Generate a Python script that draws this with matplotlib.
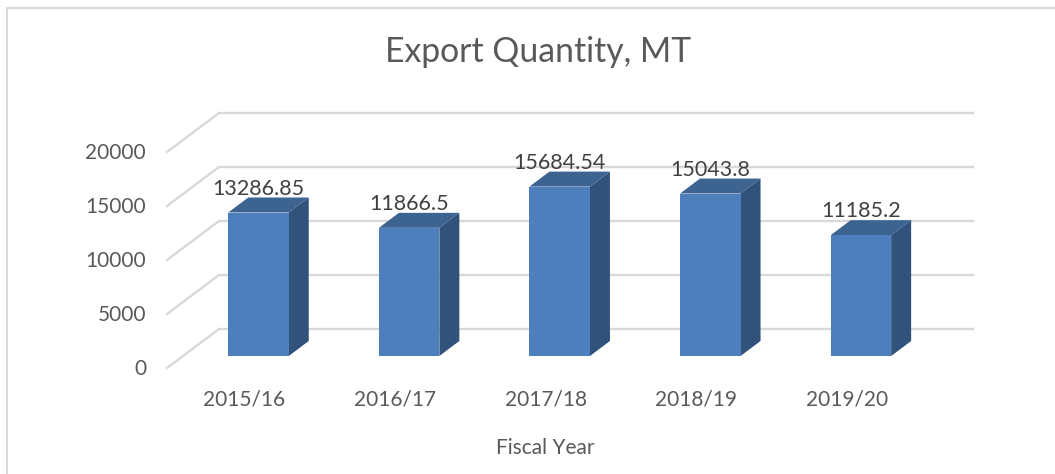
import matplotlib.pyplot as plt
from matplotlib.patches import Polygon

years = ['2015/16', '2016/17', '2017/18', '2018/19', '2019/20']
export_qty = [13286.85, 11866.5, 15684.54, 15043.8, 11185.2]
value_labels = ['13286.85', '11866.5', '15684.54', '15043.8', '11185.2']
y_ticks = [0, 5000, 10000, 15000, 20000]

plt.rcParams['font.family'] = ['Lato', 'DejaVu Sans']

W, H = 1055, 474
# one axes over the whole figure, x in category units, y in MT
px_x = 150.6      # pixels per category
px_y = 216/20000  # pixels per MT
x0, y0 = 258.5, 356  # centre of first bar, bar base
def dx(p):
    return p/px_x
def dy(p):
    return p/px_y

fig = plt.figure(figsize=(W/100, H/100), dpi=100)
ax = fig.add_axes([0, 0, 1, 1])
ax.set_xlim(-x0/px_x, (W-x0)/px_x)
ax.set_ylim(-(H-y0)/px_y, y0/px_y)
ax.axis('off')

grid = '#d9d9d9'
front_x = dx(167-x0)
back_x = dx(219-x0)
end_x = dx(973-x0)
for v in y_ticks:
    yf = v-dy(12)
    yb = v+dy(27)
    ax.plot([front_x, back_x, end_x], [yf, yb, yb], color=grid, lw=1.7, zorder=1, solid_joinstyle='miter')
    ax.text(dx(146-x0), yf-dy(1), str(v), ha='right', va='center', fontsize=15, color='#595959')

bw = 60.5/px_x
ddx, ddy = dx(20), dy(15)
for i, v in enumerate(export_qty):
    l, r = i-bw/2, i+bw/2
    ax.add_patch(Polygon([(l, v), (r, v), (r+ddx, v+ddy), (l+ddx, v+ddy)], fc='#3d6391', ec='none', zorder=2))
    ax.add_patch(Polygon([(r, 0), (r+ddx, ddy), (r+ddx, v+ddy), (r, v)], fc='#30527b', ec='none', zorder=2))
    ax.text(i, v+dy(14), value_labels[i], ha='center', va='bottom', fontsize=15.5, color='#404040', zorder=4)
    ax.text(i-dx(14), -dy(43), years[i], ha='center', va='center', fontsize=15, color='#595959')
ax.bar(range(len(years)), export_qty, width=bw, color='#4e7fbd', zorder=3)

ax.text(dx(545-x0), -dy(92), 'Fiscal Year', ha='center', va='center', fontsize=15, color='#595959')
ax.text(dx(538-x0), dy(356-52), 'Export Quantity, MT', ha='center', va='center', fontsize=24.3, color='#595959')

# chart frame, left and top only
ax.plot([dx(7-x0), dx(7-x0), dx(W-x0)], [-dy(H-356), dy(356-8), dy(356-8)], color=grid, lw=1.5, zorder=1)

fig.savefig('out.png', dpi=100)
